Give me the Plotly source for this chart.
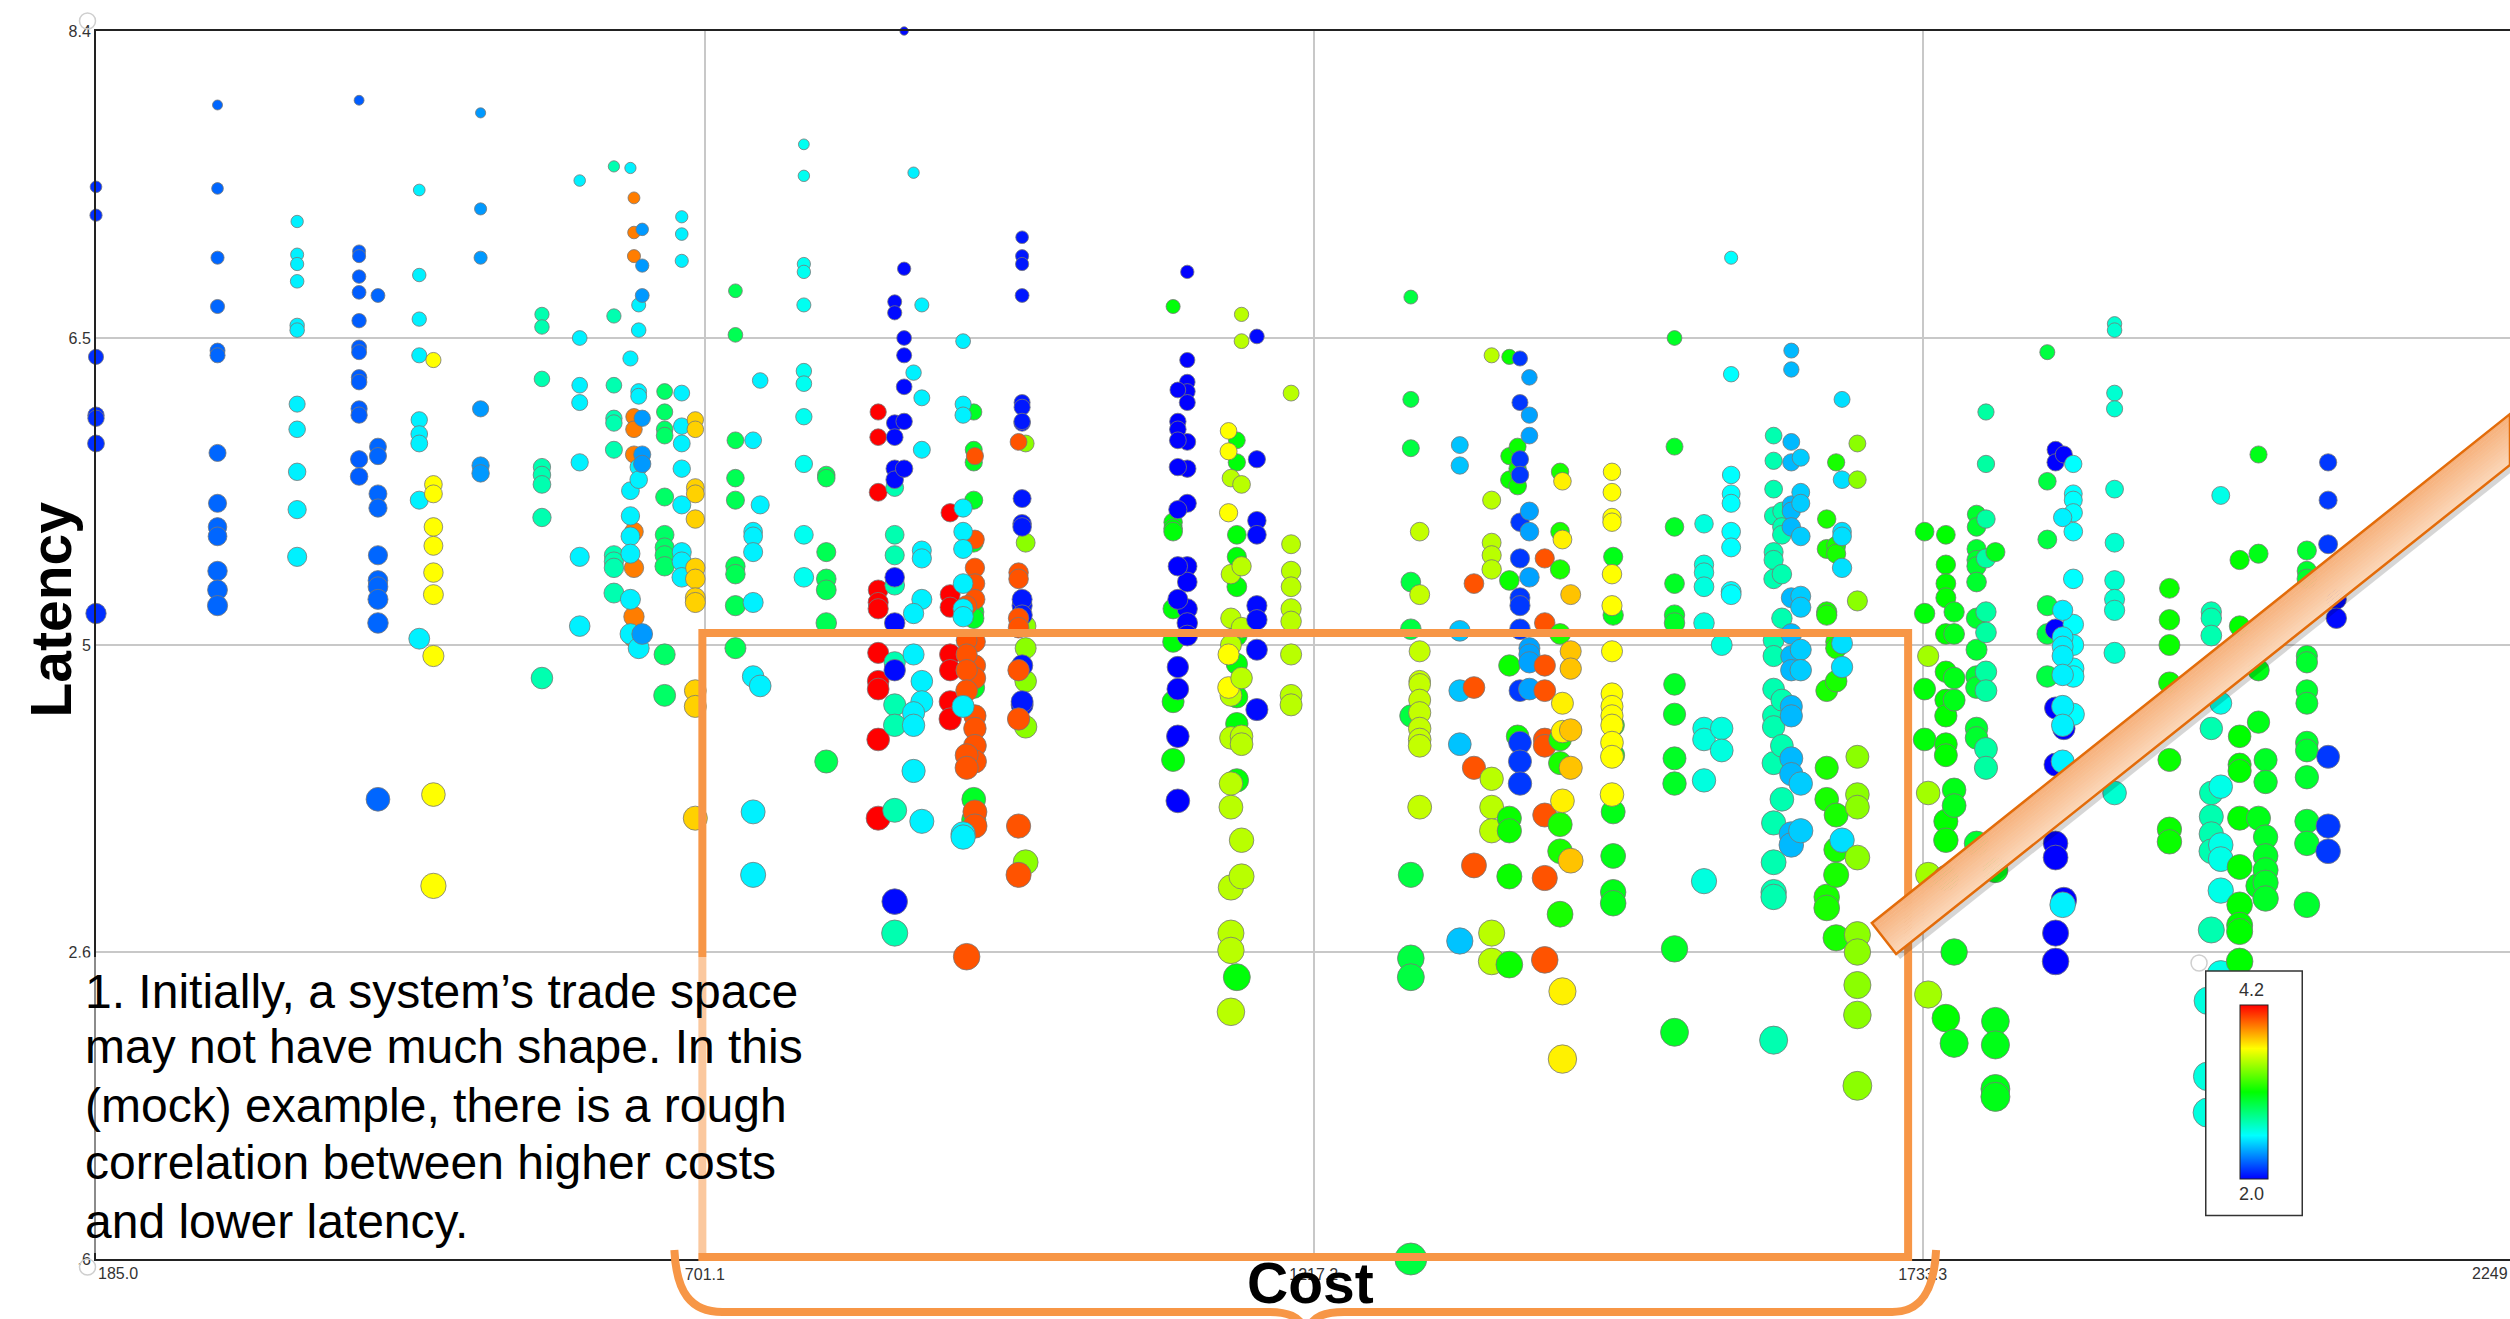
import numpy as np
import plotly.graph_objects as go

# ---------- data: one (cost, colour metric, latencies) per vertical run of points ----------
cost_ticks = [185.0, 701.1, 1217.2, 1733.3]
cost_tick_labels = ["", "701.1", "1217.2", "1733.3"]
latency_ticks = [0.6, 2.55, 4.5, 6.45, 8.4]
latency_tick_labels = [".6", "2.6", "5", "6.5", "8.4"]
note_lines = ["1. Initially, a system’s trade space", "may not have much shape. In this",
              "(mock) example, there is a rough", "correlation between higher costs",
              "and lower latency."]

lat_185 = [7.41, 7.23, 6.33, 5.96, 5.94, 5.78, 4.70]
lat_288 = [7.93, 7.40, 6.96, 6.65, 6.37, 6.34, 5.72, 5.40, 5.25, 5.19, 4.97, 4.85, 4.75]
lat_355 = [7.19, 6.98, 6.92, 6.81, 6.53, 6.50, 6.03, 5.87, 5.60, 5.36, 5.06]
lat_408 = [7.96, 7.00, 6.97, 6.84, 6.74, 6.56, 6.39, 6.36, 6.20, 6.17, 6.00, 5.96, 5.68, 5.57]
lat_424 = [6.72, 5.76, 5.70, 5.46, 5.37, 5.07, 4.91, 4.87, 4.79, 4.64, 3.52]
lat_459 = [7.39, 6.85, 6.57, 6.34, 5.93, 5.84, 5.78, 5.42, 4.54]
lat_471 = [6.31, 5.52, 5.46, 5.25, 5.13, 4.96, 4.82, 4.43, 3.55, 2.97]
lat_511 = [7.88, 7.27, 6.96, 6.00, 5.64, 5.59]
lat_563 = [6.60, 6.52, 6.19, 5.63, 5.58, 5.52, 5.31, 4.29]
lat_595 = [7.45, 6.45, 6.15, 6.04, 5.66, 5.06, 4.62]
lat_624 = [7.54, 6.59, 6.15, 5.94, 5.91, 5.74, 5.07, 5.03, 4.99, 4.83]
lat_641 = [7.34, 7.12, 6.97, 5.95, 5.87, 5.71, 5.22, 4.99, 4.68, 4.55]
lat_638 = [7.53, 6.32, 5.48, 5.32, 5.19, 5.08, 4.79, 4.57]
lat_645 = [6.66, 6.50, 6.11, 6.08, 5.63, 5.55, 4.48]
lat_648 = [7.14, 6.91, 6.72, 5.94, 5.71, 5.65, 4.57]
lat_667 = [6.11, 5.98, 5.87, 5.83, 5.44, 5.20, 5.12, 5.07, 5.00, 4.44, 4.18]
lat_681 = [7.22, 7.11, 6.94, 6.10, 5.89, 5.78, 5.62, 5.39, 5.09, 5.03, 4.93]
lat_693 = [5.93, 5.87, 5.50, 5.46, 5.30, 4.99, 4.92, 4.80, 4.77, 4.21, 4.11, 3.40]
lat_727 = [6.75, 6.47, 5.80, 5.56, 5.42, 5.00, 4.95, 4.75, 4.48]
lat_742 = [5.80, 5.22, 5.19, 5.09, 4.77, 4.30, 3.44, 3.04]
lat_748 = [6.18, 5.39, 4.24]
lat_785 = [7.68, 7.48, 6.92, 6.87, 6.66, 6.24, 6.16, 5.95, 5.65, 5.20, 4.93]
lat_804 = [5.58, 5.56, 5.09, 4.92, 4.85, 4.64, 3.76]

lat_848 = [5.98, 5.82, 5.47, 4.85, 4.77, 4.73, 4.45, 4.27, 4.22, 3.90, 3.40]
lat_862a = [5.50, 5.20, 5.07, 4.88, 4.39, 4.12, 3.99, 3.45, 2.67]
lat_862 = [6.68, 6.61, 5.91, 5.82, 5.62, 5.55, 4.93, 4.64, 4.34, 2.87]
lat_870 = [8.40, 6.89, 6.45, 6.34, 6.14, 5.92, 5.62]
lat_885 = [6.66, 6.07, 5.74, 5.10, 5.05, 4.79, 4.27, 4.14, 3.38]
lat_878 = [7.50, 6.23, 4.70, 4.44, 4.07, 3.99, 3.70]
lat_909 = [5.34, 4.82, 4.74, 4.44, 4.34, 4.14, 4.03]
lat_929 = [5.98, 5.74, 5.66, 5.42, 5.15, 4.71, 4.67, 4.23, 3.52, 3.39]
lat_930 = [5.70, 5.17, 4.99, 4.89, 4.79, 4.52, 4.37, 4.29, 4.05, 3.97, 3.86, 3.76, 3.44, 3.35]
lat_923 = [4.75, 4.53, 4.44, 4.34, 4.21, 3.80, 3.72, 2.52]
lat_920 = [6.43, 6.03, 5.96, 5.37, 5.22, 5.11, 4.89, 4.73, 4.68, 4.11, 3.30, 3.28]
lat_973 = [5.78, 5.15, 4.62, 4.48, 4.27, 3.98, 3.12]
lat_970 = [7.09, 6.97, 6.92, 6.72, 6.04, 6.01, 5.91, 5.92, 5.43, 5.27, 5.25, 4.75, 4.79, 4.69, 4.37, 4.12, 4.14]
lat_967 = [5.79, 4.96, 4.92, 4.67, 4.61, 4.34, 4.03, 3.35, 3.04]

lat_1098 = [6.65, 5.28, 5.24, 5.22, 4.73, 4.52, 4.14, 3.77]
lat_1110 = [6.87, 6.31, 6.17, 6.11, 6.04, 5.79, 5.62, 5.40, 5.00, 4.90, 4.73, 4.64, 4.56]
lat_1102 = [6.12, 5.92, 5.87, 5.80, 5.63, 5.36, 5.00, 4.79, 4.36, 4.22, 3.92, 3.51]
lat_1152 = [5.80, 5.66, 5.20, 5.06, 4.87, 4.56, 4.38, 4.17, 4.00, 3.64, 2.39]
lat_1147 = [5.56, 4.95, 4.67, 4.50, 4.18, 3.91, 3.62, 3.47, 2.96, 2.67, 2.56, 2.17]
lat_1145 = [5.86, 5.73, 5.34, 4.44, 4.23]
lat_1156 = [6.60, 6.43, 5.52, 5.00, 4.61, 4.29, 3.92, 3.87, 3.26, 3.03]
lat_1169 = [6.46, 5.68, 5.29, 5.20, 4.75, 4.66, 4.47, 4.09]
lat_1198 = [6.10, 5.14, 4.97, 4.87, 4.73, 4.65, 4.44, 4.18, 4.12]

lat_1299 = [6.71, 6.06, 5.75, 4.90, 4.60, 4.05, 3.04, 2.51, 2.39, 0.60]
lat_1307 = [5.22, 4.82, 4.46, 4.27, 4.25, 4.15, 4.07, 3.97, 3.90, 3.86, 3.47]
lat_1341 = [5.77, 5.64, 4.59, 4.21, 3.87, 2.62]
lat_1353 = [4.89, 4.23, 3.72, 3.10]
lat_1368 = [6.34, 5.42, 5.15, 5.07, 4.98, 3.65, 3.47, 3.32, 2.67, 2.49]
lat_1383 = [6.33, 5.70, 5.55, 4.91, 4.37, 3.40, 3.32, 3.03, 2.47]
lat_1390 = [5.76, 5.62, 5.51, 3.92]
lat_1392 = [6.32, 6.04, 5.68, 5.58, 5.28, 5.05, 4.80, 4.75, 4.60, 4.21, 3.88, 3.76, 3.62]
lat_1400 = [6.20, 5.96, 5.83, 5.35, 5.22, 4.93, 4.48, 4.44, 4.39, 4.22]
lat_1413 = [5.05, 4.64, 4.37, 4.21, 3.90, 3.86, 3.42, 3.02, 2.50]
lat_1426 = [5.60, 5.22, 4.98, 4.57, 3.90, 3.75, 3.36, 3.19, 2.79]
lat_1428 = [5.54, 5.17, 4.13, 3.95, 3.51, 2.30, 1.87]
lat_1435 = [4.82, 4.46, 4.35, 3.96, 3.72, 3.13]
lat_1471 = [5.06, 4.69, 3.99, 3.80, 3.44, 3.16, 2.93, 2.86]
lat_1470 = [5.60, 5.47, 5.31, 5.28, 4.95, 4.75, 4.46, 4.19, 4.11, 4.05, 3.99, 3.88, 3.79, 3.55]
lat_1523 = [6.45, 5.76, 5.25, 4.89, 4.69, 4.64, 4.25, 4.06, 3.78, 3.62, 2.57, 2.04]

lat_1548 = [5.27, 5.01, 4.96, 4.87, 4.64, 3.97, 3.90, 3.64, 3.00]
lat_1563 = [4.50, 3.97, 3.83]
lat_1571 = [6.96, 6.22, 5.58, 5.46, 5.40, 5.22, 5.12, 4.84, 4.82]
lat_1607 = [5.83, 5.67, 5.49, 5.32, 5.09, 5.04, 4.92, 4.53, 4.43, 4.22, 4.05, 3.98, 3.75, 3.37, 3.12, 2.93, 2.90, 1.99]
lat_1614 = [5.35, 5.25, 5.20, 4.95, 4.67, 4.15, 3.86, 3.52]
lat_1622 = [6.37, 6.25, 5.79, 5.66, 5.39, 5.35, 5.25, 4.80, 4.57, 4.43, 4.34, 4.11, 4.05, 3.78, 3.68, 3.30, 3.23]
lat_1630 = [5.69, 5.47, 5.40, 5.19, 4.81, 4.74, 4.47, 4.34, 3.62, 3.32]
lat_1652 = [5.30, 5.11, 4.71, 4.69, 4.21, 3.72, 3.52, 2.90, 2.83]
lat_1660 = [5.66, 5.13, 5.08, 4.52, 4.48, 4.27, 3.42, 3.20, 3.04, 2.64]
lat_1665 = [6.06, 5.55, 5.22, 5.19, 4.99, 4.51, 4.36, 3.26]
lat_1678 = [5.78, 5.55, 4.78, 3.79, 3.55, 3.47, 3.15, 2.66, 2.55, 2.34, 2.15, 1.70]
lat_1735 = [5.22, 4.70, 4.22, 3.90]
lat_1738 = [4.43, 3.56, 3.04, 2.28]
lat_1753 = [5.20, 5.01, 4.89, 4.80, 4.57, 4.33, 4.15, 4.05, 3.87, 3.80, 3.38, 3.26, 3.02, 2.13]
lat_1760 = [4.71, 4.57, 4.29, 4.15, 3.58, 3.48, 2.55, 1.97]
lat_1779 = [5.33, 5.25, 5.11, 5.04, 5.00, 4.90, 4.67, 4.47, 4.30, 4.23, 3.97, 3.91, 3.24]
lat_1787 = [5.98, 5.65, 5.30, 5.05, 4.71, 4.58, 4.33, 4.21, 3.84, 3.72]
lat_1795 = [5.09, 3.07, 2.11, 1.96, 1.68, 1.63]
lat_1839 = [6.36, 5.54, 5.17, 4.75, 4.57, 4.30]
lat_1846 = [5.74, 5.66, 4.60, 4.10, 3.74, 3.24, 3.15, 2.67, 2.49]
lat_1853 = [5.71, 3.97, 2.88]
lat_1861 = [5.65, 5.46, 5.42, 5.34, 5.22, 4.92, 4.63, 4.50, 4.35, 4.30, 4.06]
lat_1852 = [5.31, 4.72, 4.55, 4.49, 4.43, 4.31, 4.11, 3.99, 3.76, 2.85]
lat_1896 = [6.54, 6.50, 6.10, 6.00, 5.49, 5.15, 4.91, 4.79, 4.72, 4.45, 3.56]
lat_1942 = [4.86, 4.66, 4.50, 4.26, 3.77, 3.33, 3.25]
lat_1975 = [2.24, 1.76, 1.53]
lat_1978 = [4.71, 4.67, 4.56, 3.97, 3.56, 3.41, 3.30, 3.19, 2.69]
lat_1986 = [5.45, 4.13, 3.60, 3.23, 3.14, 2.94, 2.41]
lat_2002 = [5.04, 4.62, 3.92, 3.74, 3.70, 3.40, 3.09, 2.85, 2.72, 2.68, 2.49]
lat_2018 = [5.71, 5.08, 4.34, 4.01, 3.40, 2.97]
lat_2024 = [3.77, 3.63, 3.28, 3.16, 3.07, 2.99, 2.89]
lat_2059 = [5.10, 4.97, 4.92, 4.43, 4.39, 4.21, 4.13, 3.88, 3.83, 3.66, 3.38, 3.24, 2.85]
lat_2077 = [5.66, 5.42, 5.14, 3.79, 3.35, 3.19]
lat_2084 = [4.79, 4.67]
lat_2232 = [3.24, 2.68, 2.41, 1.29]

runs = [
    (185, 2.10, lat_185), (288, 2.22, lat_288), (355.5, 2.52, lat_355), (408, 2.20, lat_408),
    (424, 2.22, lat_424), (459, 2.52, lat_459), (471, 3.65, lat_471), (511, 2.33, lat_511),
    (563, 2.72, lat_563), (595, 2.52, lat_595), (624, 2.72, lat_624), (641, 3.93, lat_641),
    (638, 2.52, lat_638), (645, 2.52, lat_645), (648, 2.33, lat_648), (667, 2.88, lat_667),
    (681.5, 2.52, lat_681), (693, 3.75, lat_693), (727, 2.92, lat_727), (742, 2.52, lat_742),
    (748, 2.52, lat_748), (785, 2.58, lat_785), (804, 2.92, lat_804),
    (848, 4.20, lat_848), (862, 2.72, lat_862a), (862, 2.02, lat_862), (870, 2.02, lat_870),
    (885, 2.52, lat_885), (878, 2.52, lat_878), (909, 4.20, lat_909), (929, 3.02, lat_929),
    (930, 4.02, lat_930), (923, 4.02, lat_923), (920, 2.52, lat_920), (973, 3.40, lat_973),
    (970, 2.05, lat_970), (967, 4.02, lat_967),
    (1098, 3.08, lat_1098), (1110, 2.00, lat_1110), (1102, 2.00, lat_1102), (1152, 3.08, lat_1152),
    (1147, 3.50, lat_1147), (1145, 3.65, lat_1145), (1156, 3.50, lat_1156), (1169, 2.02, lat_1169),
    (1198, 3.50, lat_1198),
    (1299.5, 2.96, lat_1299), (1307, 3.52, lat_1307), (1341, 2.42, lat_1341), (1353, 4.02, lat_1353),
    (1368, 3.50, lat_1368), (1383, 3.12, lat_1383), (1390, 3.12, lat_1390), (1392, 2.12, lat_1392),
    (1400, 2.35, lat_1400), (1413, 4.02, lat_1413), (1426, 3.15, lat_1426), (1428, 3.68, lat_1428),
    (1435, 3.78, lat_1435), (1471, 3.05, lat_1471), (1470, 3.65, lat_1470), (1523, 3.02, lat_1523),
    (1548, 2.62, lat_1548), (1563, 2.62, lat_1563), (1571, 2.55, lat_1571), (1607, 2.72, lat_1607),
    (1614, 2.72, lat_1614), (1622, 2.40, lat_1622), (1630, 2.44, lat_1630), (1652, 3.15, lat_1652),
    (1660, 3.15, lat_1660), (1665, 2.48, lat_1665), (1678, 3.40, lat_1678),
    (1735, 3.08, lat_1735), (1738, 3.45, lat_1738), (1753, 3.10, lat_1753), (1760, 3.05, lat_1760),
    (1779, 3.00, lat_1779), (1787, 2.75, lat_1787), (1795, 3.05, lat_1795), (1839, 2.96, lat_1839),
    (1846, 2.00, lat_1846), (1853, 2.00, lat_1853), (1861, 2.55, lat_1861), (1852, 2.52, lat_1852),
    (1896, 2.65, lat_1896), (1942.5, 3.12, lat_1942), (1975, 2.62, lat_1975), (1978, 2.72, lat_1978),
    (1986, 2.60, lat_1986), (2002, 3.10, lat_2002), (2018, 3.05, lat_2018), (2024, 3.02, lat_2024),
    (2059, 3.00, lat_2059), (2077, 2.12, lat_2077), (2084, 2.02, lat_2084), (2232, 2.52, lat_2232),
]

cost = [c for c, _, ls in runs for _ in ls]
latency = [v for _, _, ls in runs for v in ls]
metric = [m for _, m, ls in runs for _ in ls]

# ---------- page geometry ----------
W, H = 2510, 1319
L, T, B = 95.5, 31.0, 1259.0
x_end = 185 + (W - L) / 609.0 * 516.1


def px(x):
    return (x - L) / (W - L)


def py(y):
    return (B - y) / (B - T)


def poly(points):
    return "M " + " L ".join(f"{px(x):.5f},{py(y):.5f}" for x, y in points) + " Z"


# marker diameter encodes latency the way the source tool does (larger = lower latency)
sizes = np.interp(latency, [0.6, 4.5, 8.4], [32, 21, 8.5])

fig = go.Figure()
fig.add_trace(go.Scatter(
    x=cost, y=latency, mode="markers", cliponaxis=False, hoverinfo="skip", showlegend=False,
    marker=dict(
        size=sizes, color=metric, coloraxis="coloraxis", opacity=1,
        line=dict(color="#777777", width=0.8),
    ),
))

ORANGE = "#f79646"
shapes = []
# selection rectangle
shapes.append(dict(type="rect", xref="paper", yref="paper", x0=px(702), x1=px(1908), y0=py(1257), y1=py(633),
                   line=dict(color=ORANGE, width=8), fillcolor="rgba(0,0,0,0)", layer="above"))
# translucent text box
shapes.append(dict(type="rect", xref="paper", yref="paper", x0=px(78), x1=px(812), y0=py(1253), y1=py(957),
                   line=dict(width=0), fillcolor="rgba(255,255,255,0.48)", layer="above"))
# curly brace under the rectangle
brace = [("M", (674, 1250)),
         ("C", (676, 1292), (690, 1312), (722, 1312)),
         ("L", (1268, 1312)),
         ("C", (1288, 1312), (1298, 1316), (1306, 1330)),
         ("C", (1314, 1316), (1324, 1312), (1344, 1312)),
         ("L", (1892, 1312)),
         ("C", (1920, 1312), (1934, 1292), (1936, 1250))]
path = " ".join(cmd + " " + " ".join(f"{px(x):.5f},{py(y):.5f}" for x, y in pts)
                for cmd, *pts in brace)
shapes.append(dict(type="path", xref="paper", yref="paper", path=path,
                   line=dict(color=ORANGE, width=8), layer="above"))
# arrow band, with a soft shadow and a gradient across its width
A, Bc = np.array([1871.7, 923.0]), np.array([1896.0, 954.0])
A2, B2 = np.array([2510.0, 414.0]), np.array([2510.0, 465.0])
shadow = (4, 5)
shapes.append(dict(type="path", xref="paper", yref="paper",
                   path=poly([tuple(p + shadow) for p in (A, A2, B2, Bc)]),
                   line=dict(width=0), fillcolor="rgba(0,0,0,0.16)", layer="above"))
n = 14
c0, c1 = np.array([246, 176, 122]), np.array([252, 216, 186])
for i in range(n):
    f0, f1 = i / n, (i + 1.15) / n
    f1 = min(f1, 1)
    col = c0 + (c1 - c0) * (i + .5) / n
    shapes.append(dict(type="path", xref="paper", yref="paper",
                       path=poly([tuple(A + (Bc - A) * f0), tuple(A2 + (B2 - A2) * f0),
                                  tuple(A2 + (B2 - A2) * f1), tuple(A + (Bc - A) * f1)]),
                       line=dict(width=0), fillcolor=f"rgb({col[0]:.0f},{col[1]:.0f},{col[2]:.0f})", layer="above"))
shapes.append(dict(type="path", xref="paper", yref="paper", path=poly([tuple(A), tuple(A2), tuple(B2), tuple(Bc)]),
                   line=dict(color="#e36c0a", width=2.5), layer="above"))
# selection handles
for hx, hy in [(87, 21), (87, 1267), (2199, 963)]:
    shapes.append(dict(type="circle", xref="paper", yref="paper", x0=px(hx - 8), x1=px(hx + 8),
                       y0=py(hy + 8), y1=py(hy - 8), line=dict(color="#cfcfcf", width=1.5), layer="above"))

SMALL = dict(family="Liberation Sans", size=16, color="#333333")
annotations = [
    dict(text="185.0", xref="paper", yref="paper", x=px(95), y=py(1273), xanchor="left", yanchor="middle",
         showarrow=False, font=SMALL),
    dict(text="2249", xref="paper", yref="paper", x=1, y=py(1273), xanchor="right", yanchor="middle",
         showarrow=False, font=SMALL),
    dict(text="4.2", xref="paper", yref="paper", x=px(2251), y=py(990), xanchor="center", yanchor="middle",
         showarrow=False, font=dict(family="Liberation Sans", size=18, color="#333333")),
    dict(text="2.0", xref="paper", yref="paper", x=px(2251), y=py(1194), xanchor="center", yanchor="middle",
         showarrow=False, font=dict(family="Liberation Sans", size=18, color="#333333")),
    dict(text="<b>Latency</b>", xref="paper", yref="paper", x=px(50), y=py(610), textangle=-90,
         xanchor="center", yanchor="middle", showarrow=False,
         font=dict(family="Liberation Sans", size=57, color="black")),
    dict(text="<b>Cost</b>", xref="paper", yref="paper", x=px(1310), y=py(1283),
         xanchor="center", yanchor="middle", showarrow=False,
         font=dict(family="Liberation Sans", size=57, color="black")),
]
for line, yc in zip(note_lines, [991, 1046, 1105, 1162, 1221]):
    annotations.append(dict(text=line, xref="paper", yref="paper", x=px(82), y=py(yc), xanchor="left",
                            yanchor="middle", align="left", showarrow=False,
                            font=dict(family="Liberation Sans", size=48, color="black")))

fig.update_layout(
    width=W, height=H, autosize=False,
    margin=dict(l=L, r=0, t=T, b=H - B, pad=0),
    paper_bgcolor="white", plot_bgcolor="white",
    font=dict(family="Liberation Sans", color="#333333", size=16),
    showlegend=False,
    shapes=shapes, annotations=annotations,
    coloraxis=dict(
        cmin=2.0, cmax=4.2,
        colorscale=[[0, "#0000ff"], [0.25, "#00ffff"], [0.5, "#00ff00"], [0.75, "#ffff00"], [1, "#ff0000"]],
        colorbar=dict(
            x=px(2207), xanchor="left", y=py(1213), yanchor="bottom",
            lenmode="pixels", len=242, thicknessmode="pixels", thickness=28,
            xpad=33, ypad=34, showticklabels=False, ticks="", outlinecolor="#222222", outlinewidth=1,
            bgcolor="white", bordercolor="#333333", borderwidth=1.5,
        ),
    ),
    xaxis=dict(
        range=[185, x_end], tickmode="array", tickvals=cost_ticks, ticktext=cost_tick_labels,
        showgrid=True, gridcolor="#c8c8c8", gridwidth=1.5, zeroline=False,
        showline=True, linecolor="#222222", linewidth=2, mirror=True, ticks="", ticklen=0,
        tickfont=dict(size=16, color="#333333"), automargin=False,
    ),
    yaxis=dict(
        range=[0.6, 8.4], tickmode="array", tickvals=latency_ticks, ticktext=latency_tick_labels,
        showgrid=True, gridcolor="#c8c8c8", gridwidth=1.5, zeroline=False,
        showline=True, linecolor="#222222", linewidth=2, ticks="", ticklen=0,
        tickfont=dict(size=16, color="#333333"), automargin=False,
    ),
)

fig.write_html("out.html", config=dict(displayModeBar=False),
               post_script="document.body.style.margin='0';document.body.style.overflow='hidden';")
